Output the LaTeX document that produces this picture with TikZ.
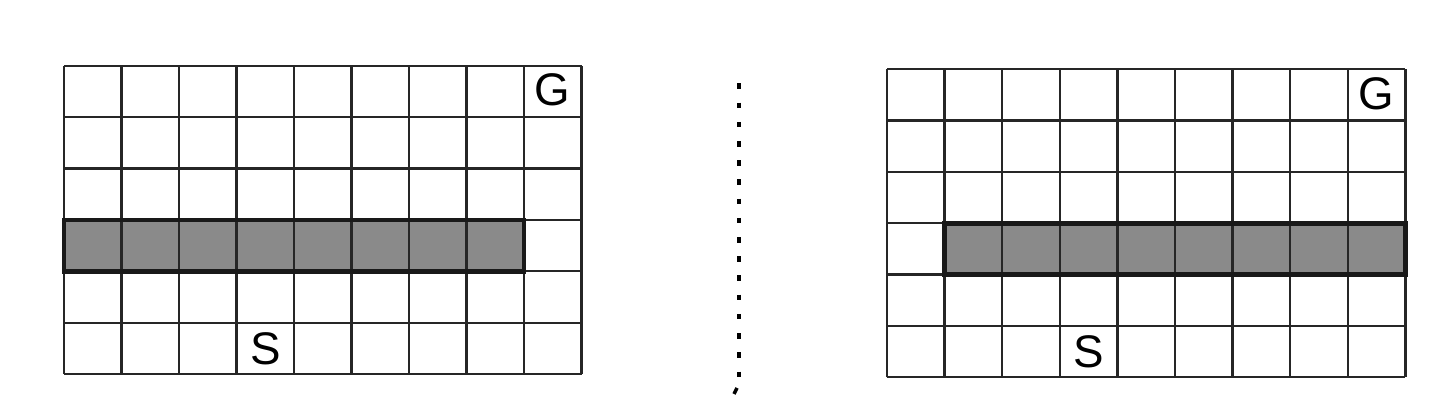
\documentclass[tikz,border=0pt]{standalone}
\usepackage{fontspec}
\setmainfont{Liberation Sans}
\usetikzlibrary{%
  calc
}

\definecolor{wallgrey}{HTML}{8A8A8A}

\tikzset{
  mazelines/.style = {line width=1.3pt, draw=black!85},
  wall/.style = {fill=wallgrey, draw=black!90, line width=2.6pt},
  mark label/.style = {font=\fontsize{26}{30}\selectfont, inner sep=0pt}
}

\begin{document}
\begin{tikzpicture}

  \useasboundingbox (0,0) rectangle (29,8.08);

  % left maze
  \begin{scope}[shift={(1.28,0.6)}, xscale=1.15, yscale=1.027]
    \draw[wall] (0,2) rectangle (8,3);
    \draw[mazelines] (0,0) grid (9,6);
    \draw[wall, fill=none] (0,2) rectangle (8,3);
    \node[mark label] (goalL) at (8.5,5.53) {G};
    \node[mark label] (startL) at (3.5,0.5) {S};
  \end{scope}

  % divider
  \draw[line width=2pt, dash pattern=on 0.11cm off 0.274cm]
    (14.78,6.41) -- (14.78,0.5);
  \draw[line width=2pt] (14.74,0.32) -- (14.68,0.2);

  % right maze
  \begin{scope}[shift={(17.74,0.534)}, xscale=1.152, yscale=1.027]
    \draw[wall] (1,2) rectangle (9,3);
    \draw[mazelines] (0,0) grid (9,6);
    \draw[wall, fill=none] (1,2) rectangle (9,3);
    \node[mark label] (goalR) at (8.5,5.53) {G};
    \node[mark label] (startR) at (3.5,0.5) {S};
  \end{scope}

\end{tikzpicture}
\end{document}
